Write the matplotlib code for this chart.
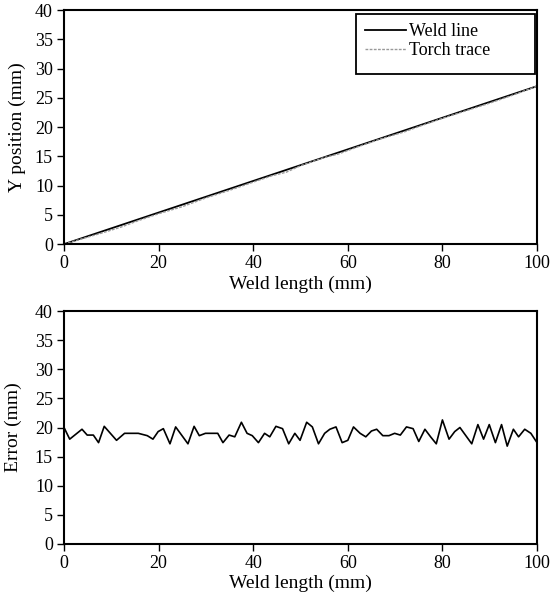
import matplotlib
matplotlib.use("Agg")
import matplotlib.pyplot as plt
from matplotlib.patches import Rectangle

plt.rcParams['font.family'] = ['Liberation Serif', 'DejaVu Serif']

# Top panel data
weld_x = [0, 100]
weld_y = [0, 27]
torch_x = [0, 5, 8, 12, 16, 20, 25, 30, 35, 40, 44, 47, 50, 55, 58, 62, 67, 72, 75, 80, 85, 90, 95, 100]
torch_y = [0.0, 1.2, 1.9, 2.9, 4.1, 5.2, 6.4, 7.9, 9.2, 10.6, 11.7, 12.3, 13.4, 14.8, 15.4, 16.6, 18.0, 19.2, 20.1, 21.5, 22.8, 24.1, 25.5, 27.0]

# Bottom panel data
err_x = [0, 1.2, 3.8, 4.9, 6.2, 7.3, 8.5, 11.1, 12.8, 15.7, 17.6, 18.8, 19.9, 21.0, 22.4, 23.6,
         26.2, 27.5, 28.6, 29.9, 32.5, 33.6, 34.9, 36.1, 37.5, 38.7, 39.8, 41.1, 42.4, 43.5,
         44.8, 46.2, 47.5, 48.8, 49.9, 51.3, 52.5, 53.8, 55.1, 56.2, 57.5, 58.8, 60.0, 61.2,
         62.6, 63.8, 65.0, 66.1, 67.4, 68.7, 69.9, 71.1, 72.4, 73.8, 75.0, 76.3, 77.5, 78.7,
         80.0, 81.4, 82.6, 83.7, 86.2, 87.5, 88.7, 89.9, 91.2, 92.5, 93.7, 95.0, 96.1, 97.4,
         98.7, 100]
err_y = [20.0, 18.0, 19.7, 18.7, 18.7, 17.4, 20.2, 17.8, 19.0, 19.0, 18.6, 18.0, 19.3, 19.8, 17.2, 20.1,
         17.2, 20.2, 18.6, 19.0, 19.0, 17.4, 18.7, 18.4, 20.9, 19.0, 18.6, 17.4, 19.0, 18.4,
         20.2, 19.8, 17.2, 19.0, 17.8, 20.9, 20.1, 17.2, 19.0, 19.7, 20.1, 17.4, 17.8, 20.1,
         19.0, 18.4, 19.4, 19.7, 18.6, 18.6, 19.0, 18.7, 20.1, 19.8, 17.6, 19.7, 18.4, 17.2,
         21.3, 18.0, 19.3, 20.0, 17.2, 20.5, 18.0, 20.5, 17.4, 20.5, 16.8, 19.7, 18.4, 19.7,
         19.0, 17.4]

x_ticks = [0, 20, 40, 60, 80, 100]
y_ticks = [0, 5, 10, 15, 20, 25, 30, 35, 40]

fig = plt.figure(figsize=(5.5, 5.94), dpi=100)
ax1 = fig.add_axes([0.1164, 0.589, 0.8600, 0.394])
ax2 = fig.add_axes([0.1164, 0.0842, 0.8600, 0.3922])

ax1.plot(weld_x, weld_y, color='black', lw=1.3, label='Weld line')
ax1.plot(torch_x, torch_y, color='#999999', lw=1.0, ls=(0, (2, 1)), label='Torch trace')
ax1.set_ylabel('Y position (mm)', fontsize=14, va='center')
ax1.yaxis.set_label_coords(-0.099, 0.5)
leg = ax1.legend(loc='upper left', fontsize=13, handlelength=2.3, frameon=False,
                 borderpad=0, handletextpad=0.15, labelspacing=0.12,
                 bbox_to_anchor=(0.636, 0.945), borderaxespad=0)
ax1.add_patch(Rectangle((0.617, 0.726), 0.379, 0.257, transform=ax1.transAxes,
                        fill=False, edgecolor='black', lw=1.3, zorder=5))

ax2.plot(err_x, err_y, color='black', lw=1.2)
ax2.set_ylabel('Error (mm)', fontsize=14, va='center')
ax2.yaxis.set_label_coords(-0.107, 0.5)

for ax in (ax1, ax2):
    ax.set_xlim(0, 100)
    ax.set_ylim(0, 40)
    ax.set_xticks(x_ticks)
    ax.set_yticks(y_ticks)
    ax.tick_params(direction='out', length=5, width=1.0, labelsize=13)
    ax.tick_params(axis='x', pad=3)
    ax.tick_params(axis='y', pad=3)
    ax.set_xlabel('Weld length (mm)', fontsize=14, va='center')
    ax.xaxis.set_label_coords(0.5, -0.17)
    for s in ax.spines.values():
        s.set_linewidth(1.5)

fig.savefig('out.png', dpi=100)
